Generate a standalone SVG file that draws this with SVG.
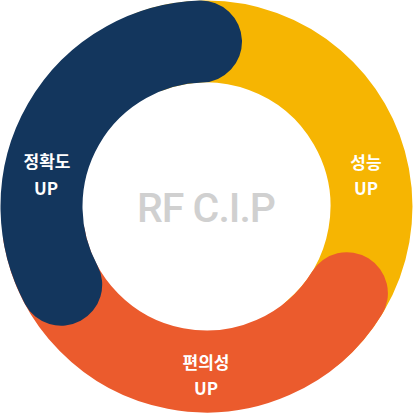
<svg xmlns="http://www.w3.org/2000/svg" width="413" height="413" viewBox="0 0 413 413">
<style>
.seg{fill:none;stroke-width:82;stroke-linecap:round}
.lbl{font-family:"Noto Sans CJK KR","Noto Sans",sans-serif;font-weight:700;font-size:17px;fill:#ffffff;text-anchor:middle}
.center{font-family:Roboto,"Liberation Sans",sans-serif;font-weight:500;font-size:41px;letter-spacing:-1px;fill:#d0d0d0;text-anchor:middle}
</style>
<rect width="413" height="413" fill="#ffffff"/>
<g id="connectors"></g>
<g id="performance">
<path class="seg" stroke="#f6b502" d="M150.1 51.5 A165 165 0 0 1 312.6 332.9"/>
<text class="lbl" x="366" y="169">성능</text>
<text class="lbl" x="366" y="195">UP</text>
</g>
<g id="convenience">
<path class="seg" stroke="#eb5b2d" d="M346.9 293.2 A165 165 0 0 1 44.0 235.1"/>
<text class="lbl" x="206" y="369">편의성</text>
<text class="lbl" x="206" y="395">UP</text>
</g>
<g id="accuracy">
<path class="seg" stroke="#13365d" d="M61.2 284.7 A165 165 0 0 1 201.0 41.6"/>
<text class="lbl" x="47" y="168">정확도</text>
<text class="lbl" x="46" y="195">UP</text>
</g>
<g id="center-label">
<text class="center" x="206" y="222">RF C.I.P</text>
</g>
</svg>
